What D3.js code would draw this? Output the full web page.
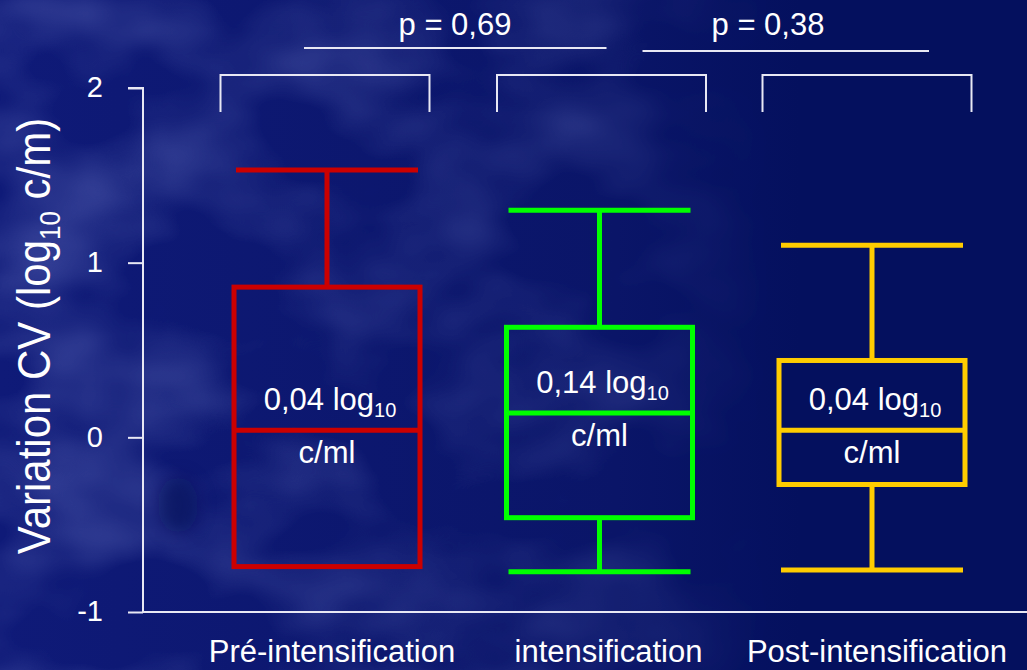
<!DOCTYPE html>
<html>
<head>
<meta charset="utf-8">
<script src="https://cdn.jsdelivr.net/npm/d3@7"></script>
<style>
  html, body { margin: 0; padding: 0; background: #04105e; }
  svg { display: block; font-family: "Liberation Sans", Arial, sans-serif; }
</style>
</head>
<body>
<svg id="chart" width="1027" height="670"></svg>
<script>
// Box-plot data: variation of viral load CV (log10 copies/ml)
const categories = ["Pré-intensification", "intensification", "Post-intensification"];
const whiskerHigh = [1.53, 1.30, 1.10];
const quartile3   = [0.86, 0.63, 0.44];
const medians     = [0.04, 0.14, 0.04];
const quartile1   = [-0.74, -0.46, -0.27];
const whiskerLow  = [-0.74, -0.77, -0.76];
const medianLabels = ["0,04", "0,14", "0,04"];
const colors = ["#cc0000", "#00ff00", "#ffcc00"];
const yTicks = [-1, 0, 1, 2];
const pValues = ["p = 0,69", "p = 0,38"];

const svg = d3.select("#chart");
const W = 1027, H = 670;

// background: navy base with a mottled lighter texture fading out to the right
const defs = svg.append("defs");
const grad = defs.append("linearGradient").attr("id", "bg").attr("x1", 0).attr("x2", 1).attr("y1", 0).attr("y2", 0);
grad.append("stop").attr("offset", "0%").attr("stop-color", "#0f1a78");
grad.append("stop").attr("offset", "60%").attr("stop-color", "#0a1568");
grad.append("stop").attr("offset", "78%").attr("stop-color", "#04105e");
grad.append("stop").attr("offset", "100%").attr("stop-color", "#04105e");
svg.append("rect").attr("width", W).attr("height", H).attr("fill", "url(#bg)");

const noise = defs.append("filter").attr("id", "mottle").attr("x", 0).attr("y", 0)
  .attr("width", "100%").attr("height", "100%");
noise.append("feTurbulence").attr("type", "fractalNoise").attr("baseFrequency", "0.006 0.009")
  .attr("numOctaves", 3).attr("seed", 7).attr("result", "n");
noise.append("feColorMatrix").attr("type", "matrix")
  .attr("values", "0 0 0 0 0.15  0 0 0 0 0.19  0 0 0 0 0.56  1.2 0 0 0 -0.5")
  .attr("result", "c");
noise.append("feComposite").attr("in", "c").attr("in2", "SourceGraphic").attr("operator", "in");
const fade = defs.append("linearGradient").attr("id", "fade").attr("x1", 0).attr("x2", 1).attr("y1", 0).attr("y2", 0);
fade.append("stop").attr("offset", "0%").attr("stop-color", "#fff").attr("stop-opacity", 0.9);
fade.append("stop").attr("offset", "55%").attr("stop-color", "#fff").attr("stop-opacity", 0.6);
fade.append("stop").attr("offset", "75%").attr("stop-color", "#fff").attr("stop-opacity", 0);
svg.append("rect").attr("width", W).attr("height", H).attr("fill", "url(#fade)").attr("filter", "url(#mottle)");

defs.append("filter").attr("id", "soft").attr("x", "-50%").attr("y", "-50%")
  .attr("width", "200%").attr("height", "200%")
  .append("feGaussianBlur").attr("stdDeviation", 9);
svg.append("ellipse").attr("cx", 178).attr("cy", 505).attr("rx", 20).attr("ry", 28)
  .attr("fill", "#050c50").attr("opacity", 0.5).attr("filter", "url(#soft)");

// scales
const y = d3.scaleLinear().domain([-1, 2]).range([612, 88]);
const x = d3.scalePoint().domain(categories).range([327, 872]);
const boxW = 186, capW = 182;
const white = "#e8e8f4";

// y axis
const axisX = 143;
const yAxis = svg.append("g").attr("transform", `translate(${axisX},0)`)
  .call(d3.axisLeft(y).tickValues(yTicks).tickSize(15).tickPadding(25)
    .tickFormat(d => String(d)));
yAxis.select(".domain").attr("stroke", white).attr("stroke-width", 2).attr("d", `M-15,${y(2)}H0V${y(-1)}`);
yAxis.selectAll(".tick line").attr("stroke", white).attr("stroke-width", 2);
yAxis.selectAll(".tick text").attr("fill", "#ffffff").attr("font-size", 29)
  .attr("font-family", "Liberation Sans, Arial, sans-serif").attr("dy", "0.3em");

// baseline (x axis)
svg.append("line").attr("x1", axisX).attr("x2", W).attr("y1", y(-1)).attr("y2", y(-1))
  .attr("stroke", white).attr("stroke-width", 2);

// y axis title
const yTitle = svg.append("text").attr("transform", "translate(50,336) rotate(-90) scale(1,1.12)")
  .attr("text-anchor", "middle").attr("fill", "#ffffff").attr("font-size", 42);
yTitle.append("tspan").text("Variation CV (log");
yTitle.append("tspan").attr("font-size", 26).attr("dy", 9).text("10");
yTitle.append("tspan").attr("dy", -9).text(" c/m)");

// category labels
svg.append("g").selectAll("text").data(categories).join("text")
  .attr("x", (d, i) => x(d) + [5, 9, 5][i]).attr("y", 662)
  .attr("text-anchor", "middle").attr("fill", "#ffffff").attr("font-size", 31)
  .text(d => d);

// boxes
const boxes = svg.append("g").selectAll("g").data(categories).join("g");
boxes.each(function (d, i) {
  const g = d3.select(this);
  const cx = x(d);
  const c = colors[i];
  const sw = 5;
  // whiskers
  g.append("line").attr("x1", cx).attr("x2", cx).attr("y1", y(whiskerHigh[i])).attr("y2", y(quartile3[i]))
    .attr("stroke", c).attr("stroke-width", sw);
  g.append("line").attr("x1", cx - capW / 2).attr("x2", cx + capW / 2)
    .attr("y1", y(whiskerHigh[i])).attr("y2", y(whiskerHigh[i])).attr("stroke", c).attr("stroke-width", sw);
  if (whiskerLow[i] < quartile1[i]) {
    g.append("line").attr("x1", cx).attr("x2", cx).attr("y1", y(quartile1[i])).attr("y2", y(whiskerLow[i]))
      .attr("stroke", c).attr("stroke-width", sw);
    g.append("line").attr("x1", cx - capW / 2).attr("x2", cx + capW / 2)
      .attr("y1", y(whiskerLow[i])).attr("y2", y(whiskerLow[i])).attr("stroke", c).attr("stroke-width", sw);
  }
  // box
  g.append("rect").attr("x", cx - boxW / 2).attr("y", y(quartile3[i]))
    .attr("width", boxW).attr("height", y(quartile1[i]) - y(quartile3[i]))
    .attr("fill", i === 2 ? "#04105e" : "none").attr("stroke", c).attr("stroke-width", sw);
  // median
  g.append("line").attr("x1", cx - boxW / 2).attr("x2", cx + boxW / 2)
    .attr("y1", y(medians[i])).attr("y2", y(medians[i])).attr("stroke", c).attr("stroke-width", sw);
  // median label
  const t = g.append("text").attr("x", cx + 3).attr("y", y(medians[i]) - 20)
    .attr("text-anchor", "middle").attr("fill", "#ffffff").attr("font-size", 31);
  t.append("tspan").text(medianLabels[i] + " log");
  t.append("tspan").attr("font-size", 20).attr("dy", 7).text("10");
  g.append("text").attr("x", cx).attr("y", y(medians[i]) + 33)
    .attr("text-anchor", "middle").attr("fill", "#ffffff").attr("font-size", 31).text("c/ml");
});

// group brackets above each box
const bracketW = 209, bracketTop = 75, bracketBottom = 112;
const bracketShift = [-2, 2, -5];
svg.append("g").selectAll("path").data(categories).join("path")
  .attr("d", (d, i) => {
    const l = x(d) + bracketShift[i] - bracketW / 2, r = l + bracketW;
    return `M${l},${bracketBottom}V${bracketTop}H${r}V${bracketBottom}`;
  })
  .attr("fill", "none").attr("stroke", white).attr("stroke-width", 2);

// p-value comparisons
const pLines = [
  { x1: x(categories[0]) - 23, x2: x(categories[1]) + 7, y: 48 },
  { x1: x(categories[1]) + 43, x2: x(categories[2]) + 57, y: 51 }
];
svg.append("g").selectAll("line").data(pLines).join("line")
  .attr("x1", d => d.x1).attr("x2", d => d.x2).attr("y1", d => d.y).attr("y2", d => d.y)
  .attr("stroke", white).attr("stroke-width", 2);
svg.append("g").selectAll("text").data(pValues).join("text")
  .attr("x", (d, i) => [455, 768][i]).attr("y", 35)
  .attr("text-anchor", "middle").attr("fill", "#ffffff").attr("font-size", 31)
  .text(d => d);
</script>
</body>
</html>
